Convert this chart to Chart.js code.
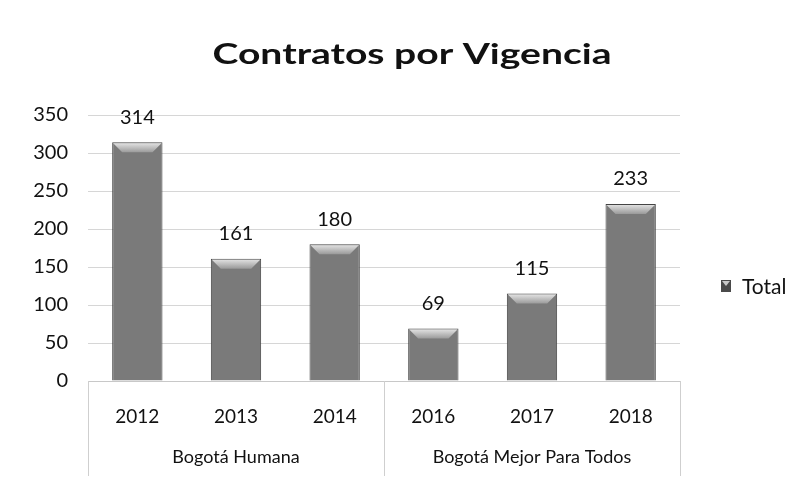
<!DOCTYPE html>
<html><head><meta charset="utf-8">
<script src="https://cdn.jsdelivr.net/npm/chart.js@4/dist/chart.umd.min.js"></script>
<style>html,body{margin:0;padding:0;background:#fff}#wrap{width:804px;height:478px}</style>
</head><body><div id="wrap"><canvas id="c" width="804" height="478"></canvas></div>
<script>
const years = ['2012','2013','2014','2016','2017','2018'];
const totals = [314,161,180,69,115,233];
const groups = ['Bogotá Humana','Bogotá Mejor Para Todos'];
const groupSizes = [3,3];
const yTicks = [0,50,100,150,200,250,300,350];
const seriesName = 'Total';
const chartTitle = 'Contratos por Vigencia';
const FONT = 'Lato, "Open Sans", sans-serif';

const extras = {
  id:'extras',
  afterDatasetsDraw(chart){
    const ctx = chart.ctx, meta = chart.getDatasetMeta(0), ca = chart.chartArea;
    ctx.save();
    meta.data.forEach(b=>{
      const w = b.width, l = b.x - w/2, r = b.x + w/2, t = b.y, h = 10;
      const g = ctx.createLinearGradient(0, t, 0, t+h);
      g.addColorStop(0,'#e8e8e8'); g.addColorStop(1,'#9a9a9a');
      ctx.fillStyle = g;
      ctx.beginPath(); ctx.moveTo(l+1,t+1); ctx.lineTo(r-1,t+1); ctx.lineTo(r-h,t+h); ctx.lineTo(l+h,t+h); ctx.closePath(); ctx.fill();
    });
    ctx.fillStyle = '#111'; ctx.font = '20px '+FONT; ctx.textAlign='center'; ctx.textBaseline='middle';
    meta.data.forEach((b,i)=>{ ctx.fillText(String(totals[i]), b.x, b.y - 25); });
    const step = (ca.right - ca.left)/years.length;
    ctx.strokeStyle = '#cfcfcf'; ctx.lineWidth = 1;
    let idx = 0; const bounds=[ca.left];
    groupSizes.forEach(s=>{ idx+=s; bounds.push(ca.left + idx*step); });
    bounds.forEach(x=>{ ctx.beginPath(); ctx.moveTo(Math.round(x)+0.5, ca.bottom); ctx.lineTo(Math.round(x)+0.5, 476); ctx.stroke(); });
    ctx.font = '18px '+FONT; ctx.fillStyle='#111';
    groups.forEach((g,i)=>{ ctx.fillText(g, (bounds[i]+bounds[i+1])/2, 457); });
    const lx = 721, ly = 286;
    ctx.fillStyle = '#4a4a4a'; ctx.fillRect(lx, ly-6, 10, 12);
    ctx.fillStyle = '#c8c8c8'; ctx.beginPath(); ctx.moveTo(lx+1,ly-5); ctx.lineTo(lx+9,ly-5); ctx.lineTo(lx+5,ly); ctx.closePath(); ctx.fill();
    ctx.fillStyle = '#111'; ctx.font = '21px '+FONT; ctx.textAlign='left';
    ctx.fillText(seriesName, lx+21, ly+1);
    ctx.font = 'bold 29px '+FONT; ctx.textAlign='center'; ctx.textBaseline='alphabetic';
    const tw = ctx.measureText(chartTitle).width;
    const sx = 399 / tw;
    ctx.translate(412, 64); ctx.scale(sx, 1);
    ctx.fillText(chartTitle, 0, 0);
    ctx.restore();
  }
};

new Chart(document.getElementById('c'), {
  type:'bar',
  data:{ labels: years, datasets:[{ label: seriesName, data: totals,
    backgroundColor: (c)=>{ const ch=c.chart; const el = c.element;
      if(!el || !ch.chartArea || !Number.isFinite(el.x) || !Number.isFinite(el.width)) return '#7a7a7a';
      const w = el.width; const g = ch.ctx.createLinearGradient(el.x - w/2, 0, el.x + w/2, 0);
      g.addColorStop(0,'#555'); g.addColorStop(0.14,'#7a7a7a'); g.addColorStop(0.5,'#858585'); g.addColorStop(0.86,'#7a7a7a'); g.addColorStop(1,'#505050'); return g; },
    borderColor:'#444', borderWidth:1, categoryPercentage:1, barPercentage:0.51 }]},
  options:{
    responsive:false, animation:false,
    layout:{ padding:{ left:20, right:124, top:115, bottom:1 } },
    plugins:{ legend:{ display:false }, tooltip:{ enabled:false }, title:{ display:false } },
    scales:{
      y:{ min:0, max:350, afterBuildTicks:(a)=>{ a.ticks = yTicks.map(v=>({value:v})); },
        border:{ display:false }, grid:{ color:'#d6d6d6', drawTicks:false },
        ticks:{ color:'#111', font:{ family:FONT, size:20 }, padding:20 },
        afterFit:(s)=>{ s.width = 68; } },
      x:{ grid:{ display:false }, border:{ display:true, color:'#c8c8c8' },
        ticks:{ color:'#111', font:{ family:FONT, size:19 }, padding:16 },
        afterFit:(s)=>{ s.height = 96; } }
    }
  },
  plugins:[extras]
});
</script></body></html>
